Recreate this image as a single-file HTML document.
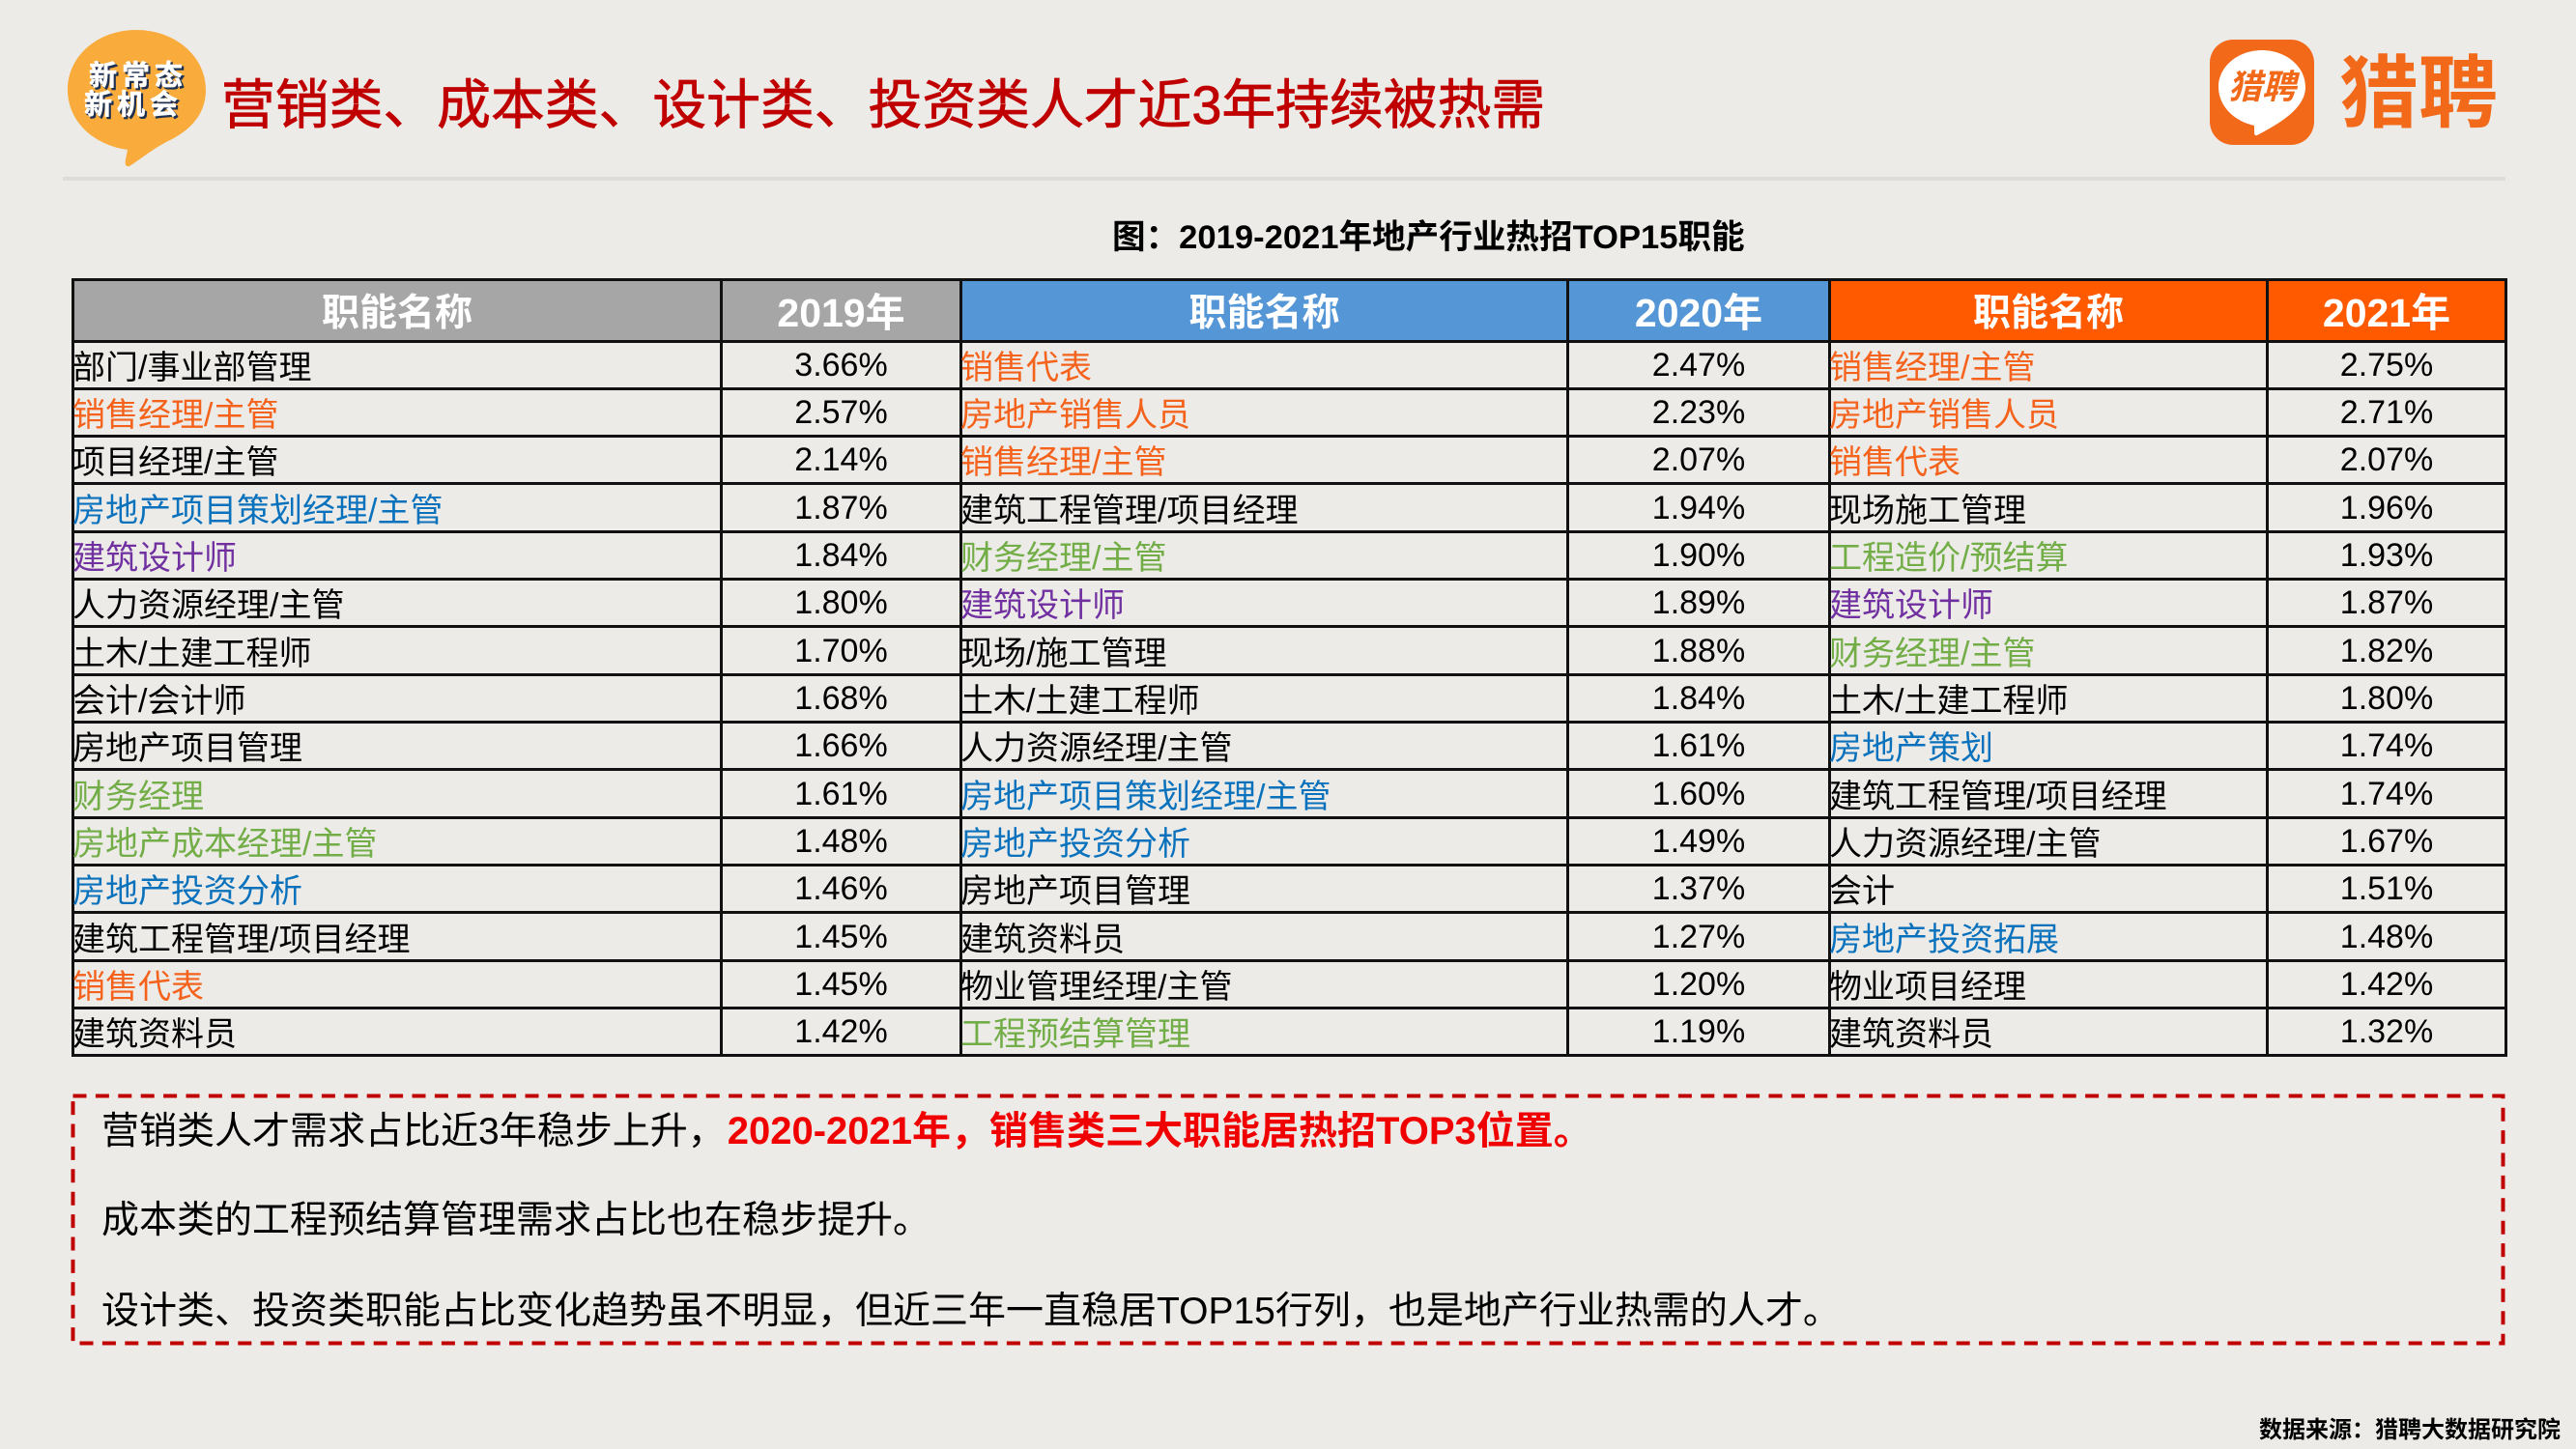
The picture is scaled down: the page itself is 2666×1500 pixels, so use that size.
<!DOCTYPE html>
<html lang="zh-CN">
<head>
<meta charset="utf-8">
<title>营销类、成本类、设计类、投资类人才近3年持续被热需</title>
<style>
html,body{margin:0;padding:0;}
body{width:2666px;height:1500px;position:relative;overflow:hidden;background:#ecebe7;font-family:"Liberation Sans","Noto Sans CJK SC",sans-serif;color:#000;}
.abs{position:absolute;white-space:nowrap;line-height:1;}
#table{position:absolute;left:74px;top:288px;width:2518px;border-collapse:collapse;table-layout:fixed;}
#table th,#table td{border:3px solid #111;padding:0;overflow:visible;white-space:nowrap;line-height:1;}
#table th{height:60.5px;color:#fff;font-weight:bold;font-size:39px;text-align:center;}
#table th span{position:relative;top:3px;}
#table th.y{font-size:41px;}
#table td{height:46.33px;font-size:34px;}
#table td.n{text-align:left;padding-left:0;}
#table td.v{text-align:center;}
#table td.n span{position:relative;top:3px;left:-2px;}
.g{background:#a6a6a6;}.b{background:#5596d6;}.o{background:#ff5a00;}
.or{color:#f4621c;}.bl{color:#0a72bd;}.pu{color:#7030a0;}.gr{color:#72ad47;}
</style>
</head>
<body>

<svg class="abs" style="left:60px;top:20px" width="170" height="160" viewBox="60 20 170 160">
  <path d="M141 31C181 31 213 58 213 93C213 119 196 136 172 147C157 155 145 165 134 172C130 173 129 170 130 165L132 155C96 150 70 125 70 93C70 58 101 31 141 31Z" fill="#f9ab3b"/>
  <g font-family="'Liberation Sans','Noto Sans CJK SC',sans-serif" font-weight="bold" font-size="29" text-anchor="middle">
    <text x="145" y="90" fill="#1f3050" stroke="#1f3050" stroke-width="1" letter-spacing="5" aria-hidden="true">新常态</text>
    <text x="143" y="88" fill="#fff" stroke="#fff" stroke-width=".6" letter-spacing="5">新常态</text>
    <text x="140" y="120" fill="#1f3050" stroke="#1f3050" stroke-width="1" letter-spacing="5" aria-hidden="true">新机会</text>
    <text x="138" y="118" fill="#fff" stroke="#fff" stroke-width=".6" letter-spacing="5">新机会</text>
  </g>
</svg>

<div class="abs" style="left:229px;top:81px;font-size:55.8px;color:#c00000;-webkit-text-stroke:.8px #c00000;">营销类、成本类、设计类、投资类人才近3年持续被热需</div>

<svg class="abs" style="left:2287px;top:41px" width="108" height="109" viewBox="0 0 108 109">
  <rect x="0" y="0" width="108" height="109" rx="24" fill="#f2691a"/>
  <path d="M54 11C79 11 99 28 99 49C99 69 78 84 49 99C47 100 46 98 46 96L46 89C24 84 9 68 9 49C9 28 29 11 54 11Z" fill="#fff"/>
  <text x="54" y="61" font-family="'Liberation Sans','Noto Sans CJK SC',sans-serif" font-size="35" font-weight="bold" font-style="italic" text-anchor="middle" fill="#f2691a">猎聘</text>
</svg>
<div class="abs" style="left:2421px;top:57px;font-size:82px;font-weight:bold;color:#f2691a;">猎聘</div>

<div class="abs" style="left:65px;top:183px;width:2528px;height:4px;background:#dcdcd8;"></div>

<div class="abs" style="left:1151px;top:229px;font-size:34.6px;font-weight:bold;">图：2019-2021年地产行业热招TOP15职能</div>

<table id="table">
<colgroup><col style="width:671px"><col style="width:248px"><col style="width:628px"><col style="width:271px"><col style="width:453px"><col style="width:247px"></colgroup>
<thead>
<tr>
<th class="g"><span>职能名称</span></th><th class="g y"><span>2019年</span></th>
<th class="b"><span>职能名称</span></th><th class="b y"><span>2020年</span></th>
<th class="o"><span>职能名称</span></th><th class="o y"><span>2021年</span></th>
</tr>
</thead>
<tbody>
<tr>
<td class="n"><span>部门/事业部管理</span></td><td class="v">3.66%</td>
<td class="n or"><span>销售代表</span></td><td class="v">2.47%</td>
<td class="n or"><span>销售经理/主管</span></td><td class="v">2.75%</td>
</tr>
<tr>
<td class="n or"><span>销售经理/主管</span></td><td class="v">2.57%</td>
<td class="n or"><span>房地产销售人员</span></td><td class="v">2.23%</td>
<td class="n or"><span>房地产销售人员</span></td><td class="v">2.71%</td>
</tr>
<tr>
<td class="n"><span>项目经理/主管</span></td><td class="v">2.14%</td>
<td class="n or"><span>销售经理/主管</span></td><td class="v">2.07%</td>
<td class="n or"><span>销售代表</span></td><td class="v">2.07%</td>
</tr>
<tr>
<td class="n bl"><span>房地产项目策划经理/主管</span></td><td class="v">1.87%</td>
<td class="n"><span>建筑工程管理/项目经理</span></td><td class="v">1.94%</td>
<td class="n"><span>现场施工管理</span></td><td class="v">1.96%</td>
</tr>
<tr>
<td class="n pu"><span>建筑设计师</span></td><td class="v">1.84%</td>
<td class="n gr"><span>财务经理/主管</span></td><td class="v">1.90%</td>
<td class="n gr"><span>工程造价/预结算</span></td><td class="v">1.93%</td>
</tr>
<tr>
<td class="n"><span>人力资源经理/主管</span></td><td class="v">1.80%</td>
<td class="n pu"><span>建筑设计师</span></td><td class="v">1.89%</td>
<td class="n pu"><span>建筑设计师</span></td><td class="v">1.87%</td>
</tr>
<tr>
<td class="n"><span>土木/土建工程师</span></td><td class="v">1.70%</td>
<td class="n"><span>现场/施工管理</span></td><td class="v">1.88%</td>
<td class="n gr"><span>财务经理/主管</span></td><td class="v">1.82%</td>
</tr>
<tr>
<td class="n"><span>会计/会计师</span></td><td class="v">1.68%</td>
<td class="n"><span>土木/土建工程师</span></td><td class="v">1.84%</td>
<td class="n"><span>土木/土建工程师</span></td><td class="v">1.80%</td>
</tr>
<tr>
<td class="n"><span>房地产项目管理</span></td><td class="v">1.66%</td>
<td class="n"><span>人力资源经理/主管</span></td><td class="v">1.61%</td>
<td class="n bl"><span>房地产策划</span></td><td class="v">1.74%</td>
</tr>
<tr>
<td class="n gr"><span>财务经理</span></td><td class="v">1.61%</td>
<td class="n bl"><span>房地产项目策划经理/主管</span></td><td class="v">1.60%</td>
<td class="n"><span>建筑工程管理/项目经理</span></td><td class="v">1.74%</td>
</tr>
<tr>
<td class="n gr"><span>房地产成本经理/主管</span></td><td class="v">1.48%</td>
<td class="n bl"><span>房地产投资分析</span></td><td class="v">1.49%</td>
<td class="n"><span>人力资源经理/主管</span></td><td class="v">1.67%</td>
</tr>
<tr>
<td class="n bl"><span>房地产投资分析</span></td><td class="v">1.46%</td>
<td class="n"><span>房地产项目管理</span></td><td class="v">1.37%</td>
<td class="n"><span>会计</span></td><td class="v">1.51%</td>
</tr>
<tr>
<td class="n"><span>建筑工程管理/项目经理</span></td><td class="v">1.45%</td>
<td class="n"><span>建筑资料员</span></td><td class="v">1.27%</td>
<td class="n bl"><span>房地产投资拓展</span></td><td class="v">1.48%</td>
</tr>
<tr>
<td class="n or"><span>销售代表</span></td><td class="v">1.45%</td>
<td class="n"><span>物业管理经理/主管</span></td><td class="v">1.20%</td>
<td class="n"><span>物业项目经理</span></td><td class="v">1.42%</td>
</tr>
<tr>
<td class="n"><span>建筑资料员</span></td><td class="v">1.42%</td>
<td class="n gr"><span>工程预结算管理</span></td><td class="v">1.19%</td>
<td class="n"><span>建筑资料员</span></td><td class="v">1.32%</td>
</tr>
</tbody>
</table>

<svg class="abs" style="left:70px;top:1128px" width="2530" height="270" viewBox="70 1128 2530 270">
  <rect x="75.5" y="1134.5" width="2515" height="256" fill="none" stroke="#c00000" stroke-width="4" stroke-dasharray="14 9.4"/>
</svg>

<div class="abs" style="left:105px;top:1151px;font-size:39px;">营销类人才需求占比近3年稳步上升，<b style="color:#f00000;font-size:40px;margin-left:2px;">2020-2021年，销售类三大职能居热招TOP3位置。</b></div>
<div class="abs" style="left:105px;top:1244px;font-size:39px;">成本类的工程预结算管理需求占比也在稳步提升。</div>
<div class="abs" style="left:105px;top:1338px;font-size:39px;">设计类、投资类职能占比变化趋势虽不明显，但近三年一直稳居TOP15行列，也是地产行业热需的人才。</div>

<div class="abs" style="left:2338px;top:1469px;font-size:24px;font-weight:bold;">数据来源：猎聘大数据研究院</div>

</body>
</html>
